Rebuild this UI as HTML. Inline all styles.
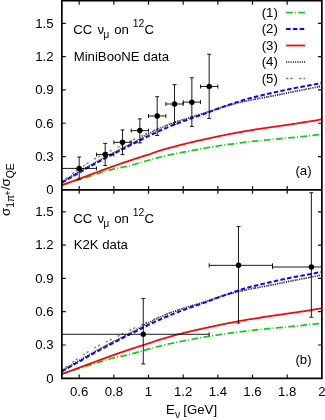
<!DOCTYPE html><html><head><meta charset="utf-8"><title>chart</title><style>html,body{margin:0;padding:0;background:#fff}svg{display:block;will-change:transform;opacity:0.999}text{font-family:"Liberation Sans",sans-serif;fill:#000}</style></head><body>
<svg width="325" height="420" viewBox="0 0 325 420">
<rect x="0" y="0" width="325" height="420" fill="#fff"/>
<defs><clipPath id="c0"><rect x="61.85" y="0.75" width="260.0" height="189.1"/></clipPath><clipPath id="c1"><rect x="61.85" y="189.85" width="260.0" height="188.45000000000002"/></clipPath></defs>
<g clip-path="url(#c0)" fill="none">
<path d="M61.85,182.16 L63.58,181.10 L65.32,180.03 L67.05,178.97 L68.78,177.91 L70.52,176.85 L72.25,175.79 L73.98,174.75 L75.72,173.71 L77.45,172.68 L79.18,171.67 L80.92,170.66 L82.65,169.66 L84.38,168.66 L86.12,167.66 L87.85,166.66 L89.58,165.66 L91.32,164.68 L93.05,163.71 L94.78,162.75 L96.52,161.80 L98.25,160.85 L99.98,159.92 L101.72,158.99 L103.45,158.06 L105.18,157.14 L106.92,156.23 L108.65,155.31 L110.38,154.41 L112.12,153.50 L113.85,152.60 L115.58,151.70 L117.32,150.80 L119.05,149.90 L120.78,149.00 L122.52,148.10 L124.25,147.19 L125.98,146.30 L127.72,145.40 L129.45,144.51 L131.18,143.63 L132.92,142.73 L134.65,141.81 L136.38,140.87 L138.12,139.92 L139.85,138.96 L141.58,137.97 L143.32,136.96 L145.05,135.96 L146.78,134.98 L148.52,134.06 L150.25,133.17 L151.98,132.29 L153.72,131.42 L155.45,130.56 L157.18,129.71 L158.92,128.87 L160.65,128.05 L162.38,127.25 L164.12,126.46 L165.85,125.70 L167.58,124.97 L169.32,124.28 L171.05,123.63 L172.78,123.00 L174.52,122.41 L176.25,121.83 L177.98,121.26 L179.72,120.70 L181.45,120.15 L183.18,119.59 L184.92,119.04 L186.65,118.49 L188.38,117.95 L190.12,117.42 L191.85,116.89 L193.58,116.37 L195.32,115.85 L197.05,115.33 L198.78,114.82 L200.52,114.31 L202.25,113.78 L203.98,113.24 L205.72,112.68 L207.45,112.11 L209.18,111.52 L210.92,110.94 L212.65,110.34 L214.38,109.75 L216.12,109.16 L217.85,108.58 L219.58,108.01 L221.32,107.45 L223.05,106.90 L224.78,106.38 L226.52,105.88 L228.25,105.40 L229.98,104.92 L231.72,104.47 L233.45,104.02 L235.18,103.58 L236.92,103.15 L238.65,102.74 L240.38,102.33 L242.12,101.93 L243.85,101.55 L245.58,101.17 L247.32,100.80 L249.05,100.44 L250.78,100.09 L252.52,99.74 L254.25,99.40 L255.98,99.07 L257.72,98.74 L259.45,98.41 L261.18,98.09 L262.92,97.77 L264.65,97.45 L266.38,97.12 L268.12,96.80 L269.85,96.48 L271.58,96.15 L273.32,95.82 L275.05,95.48 L276.78,95.14 L278.52,94.79 L280.25,94.43 L281.98,94.06 L283.72,93.69 L285.45,93.31 L287.18,92.94 L288.92,92.58 L290.65,92.23 L292.38,91.89 L294.12,91.54 L295.85,91.21 L297.58,90.88 L299.32,90.55 L301.05,90.22 L302.78,89.89 L304.52,89.56 L306.25,89.23 L307.98,88.90 L309.72,88.56 L311.45,88.22 L313.18,87.87 L314.92,87.52 L316.65,87.16 L318.38,86.79 L320.12,86.41 L321.85,86.02" stroke="#111" stroke-width="1.7" stroke-dasharray="1.05 1.2"/>
<path d="M61.85,181.60 L63.58,180.24 L65.32,178.90 L67.05,177.56 L68.78,176.24 L70.52,174.93 L72.25,173.65 L73.98,172.39 L75.72,171.16 L77.45,169.95 L79.18,168.78 L80.92,167.63 L82.65,166.48 L84.38,165.33 L86.12,164.19 L87.85,163.07 L89.58,161.96 L91.32,160.89 L93.05,159.85 L94.78,158.85 L96.52,157.88 L98.25,156.96 L99.98,156.06 L101.72,155.18 L103.45,154.32 L105.18,153.48 L106.92,152.65 L108.65,151.82 L110.38,150.99 L112.12,150.15 L113.85,149.30 L115.58,148.44 L117.32,147.58 L119.05,146.72 L120.78,145.85 L122.52,144.98 L124.25,144.12 L125.98,143.26 L127.72,142.41 L129.45,141.57 L131.18,140.74 L132.92,139.92 L134.65,139.12 L136.38,138.33 L138.12,137.55 L139.85,136.77 L141.58,135.98 L143.32,135.16 L145.05,134.33 L146.78,133.51 L148.52,132.72 L150.25,131.96 L151.98,131.20 L153.72,130.44 L155.45,129.69 L157.18,128.94 L158.92,128.20 L160.65,127.47 L162.38,126.76 L164.12,126.06 L165.85,125.37 L167.58,124.70 L169.32,124.06 L171.05,123.44 L172.78,122.84 L174.52,122.25 L176.25,121.68 L177.98,121.12 L179.72,120.57 L181.45,120.02 L183.18,119.48 L184.92,118.94 L186.65,118.41 L188.38,117.89 L190.12,117.37 L191.85,116.85 L193.58,116.34 L195.32,115.83 L197.05,115.32 L198.78,114.81 L200.52,114.31 L202.25,113.79 L203.98,113.25 L205.72,112.69 L207.45,112.12 L209.18,111.54 L210.92,110.95 L212.65,110.35 L214.38,109.76 L216.12,109.17 L217.85,108.58 L219.58,108.01 L221.32,107.45 L223.05,106.90 L224.78,106.38 L226.52,105.88 L228.25,105.40 L229.98,104.92 L231.72,104.47 L233.45,104.02 L235.18,103.58 L236.92,103.15 L238.65,102.74 L240.38,102.33 L242.12,101.93 L243.85,101.55 L245.58,101.17 L247.32,100.80 L249.05,100.44 L250.78,100.09 L252.52,99.74 L254.25,99.40 L255.98,99.07 L257.72,98.74 L259.45,98.41 L261.18,98.09 L262.92,97.77 L264.65,97.45 L266.38,97.12 L268.12,96.80 L269.85,96.48 L271.58,96.15 L273.32,95.82 L275.05,95.48 L276.78,95.14 L278.52,94.79 L280.25,94.43 L281.98,94.06 L283.72,93.69 L285.45,93.31 L287.18,92.94 L288.92,92.58 L290.65,92.23 L292.38,91.89 L294.12,91.54 L295.85,91.21 L297.58,90.88 L299.32,90.55 L301.05,90.22 L302.78,89.89 L304.52,89.56 L306.25,89.23 L307.98,88.90 L309.72,88.56 L311.45,88.22 L313.18,87.87 L314.92,87.52 L316.65,87.16 L318.38,86.79 L320.12,86.41 L321.85,86.02" stroke="#777" stroke-width="1.3" stroke-dasharray="2.3 2 2.3 6.5"/>
<path d="M61.85,184.93 L63.58,184.41 L65.32,183.88 L67.05,183.35 L68.78,182.82 L70.52,182.28 L72.25,181.74 L73.98,181.20 L75.72,180.66 L77.45,180.13 L79.18,179.59 L80.92,179.05 L82.65,178.51 L84.38,177.96 L86.12,177.41 L87.85,176.86 L89.58,176.31 L91.32,175.76 L93.05,175.21 L94.78,174.66 L96.52,174.12 L98.25,173.57 L99.98,173.03 L101.72,172.49 L103.45,171.96 L105.18,171.43 L106.92,170.90 L108.65,170.39 L110.38,169.88 L112.12,169.40 L113.85,168.97 L115.58,168.57 L117.32,168.21 L119.05,167.86 L120.78,167.53 L122.52,167.19 L124.25,166.85 L125.98,166.50 L127.72,166.12 L129.45,165.70 L131.18,165.24 L132.92,164.75 L134.65,164.26 L136.38,163.76 L138.12,163.26 L139.85,162.75 L141.58,162.25 L143.32,161.74 L145.05,161.24 L146.78,160.74 L148.52,160.25 L150.25,159.76 L151.98,159.28 L153.72,158.81 L155.45,158.34 L157.18,157.89 L158.92,157.45 L160.65,157.02 L162.38,156.60 L164.12,156.20 L165.85,155.79 L167.58,155.40 L169.32,155.02 L171.05,154.64 L172.78,154.27 L174.52,153.90 L176.25,153.54 L177.98,153.19 L179.72,152.84 L181.45,152.50 L183.18,152.16 L184.92,151.82 L186.65,151.49 L188.38,151.17 L190.12,150.84 L191.85,150.52 L193.58,150.20 L195.32,149.88 L197.05,149.57 L198.78,149.25 L200.52,148.93 L202.25,148.62 L203.98,148.31 L205.72,148.01 L207.45,147.71 L209.18,147.42 L210.92,147.13 L212.65,146.84 L214.38,146.56 L216.12,146.29 L217.85,146.02 L219.58,145.75 L221.32,145.49 L223.05,145.23 L224.78,144.98 L226.52,144.73 L228.25,144.48 L229.98,144.24 L231.72,144.01 L233.45,143.77 L235.18,143.54 L236.92,143.32 L238.65,143.10 L240.38,142.88 L242.12,142.66 L243.85,142.45 L245.58,142.24 L247.32,142.03 L249.05,141.83 L250.78,141.63 L252.52,141.43 L254.25,141.24 L255.98,141.05 L257.72,140.87 L259.45,140.68 L261.18,140.51 L262.92,140.33 L264.65,140.16 L266.38,140.00 L268.12,139.83 L269.85,139.67 L271.58,139.50 L273.32,139.34 L275.05,139.18 L276.78,139.02 L278.52,138.86 L280.25,138.70 L281.98,138.54 L283.72,138.38 L285.45,138.21 L287.18,138.05 L288.92,137.88 L290.65,137.72 L292.38,137.55 L294.12,137.38 L295.85,137.21 L297.58,137.04 L299.32,136.86 L301.05,136.68 L302.78,136.50 L304.52,136.32 L306.25,136.14 L307.98,135.95 L309.72,135.75 L311.45,135.56 L313.18,135.36 L314.92,135.15 L316.65,134.94 L318.38,134.73 L320.12,134.51 L321.85,134.28" stroke="#18c818" stroke-width="1.75" stroke-dasharray="6.8 2 1 2.4"/>
<path d="M61.85,182.49 L63.58,181.52 L65.32,180.55 L67.05,179.57 L68.78,178.59 L70.52,177.61 L72.25,176.62 L73.98,175.64 L75.72,174.65 L77.45,173.66 L79.18,172.67 L80.92,171.68 L82.65,170.68 L84.38,169.69 L86.12,168.70 L87.85,167.71 L89.58,166.72 L91.32,165.75 L93.05,164.78 L94.78,163.83 L96.52,162.88 L98.25,161.94 L99.98,161.01 L101.72,160.08 L103.45,159.16 L105.18,158.25 L106.92,157.34 L108.65,156.44 L110.38,155.54 L112.12,154.64 L113.85,153.74 L115.58,152.85 L117.32,151.95 L119.05,151.06 L120.78,150.16 L122.52,149.26 L124.25,148.37 L125.98,147.48 L127.72,146.60 L129.45,145.72 L131.18,144.85 L132.92,143.98 L134.65,143.11 L136.38,142.24 L138.12,141.38 L139.85,140.51 L141.58,139.63 L143.32,138.72 L145.05,137.81 L146.78,136.91 L148.52,136.05 L150.25,135.23 L151.98,134.41 L153.72,133.60 L155.45,132.80 L157.18,132.00 L158.92,131.21 L160.65,130.43 L162.38,129.66 L164.12,128.90 L165.85,128.14 L167.58,127.40 L169.32,126.67 L171.05,125.95 L172.78,125.25 L174.52,124.56 L176.25,123.88 L177.98,123.21 L179.72,122.55 L181.45,121.90 L183.18,121.26 L184.92,120.63 L186.65,120.00 L188.38,119.38 L190.12,118.77 L191.85,118.17 L193.58,117.56 L195.32,116.97 L197.05,116.37 L198.78,115.78 L200.52,115.19 L202.25,114.60 L203.98,113.98 L205.72,113.35 L207.45,112.71 L209.18,112.06 L210.92,111.41 L212.65,110.75 L214.38,110.09 L216.12,109.43 L217.85,108.77 L219.58,108.12 L221.32,107.49 L223.05,106.86 L224.78,106.25 L226.52,105.66 L228.25,105.07 L229.98,104.48 L231.72,103.89 L233.45,103.31 L235.18,102.72 L236.92,102.15 L238.65,101.57 L240.38,101.01 L242.12,100.46 L243.85,99.93 L245.58,99.41 L247.32,98.91 L249.05,98.42 L250.78,97.96 L252.52,97.52 L254.25,97.09 L255.98,96.67 L257.72,96.26 L259.45,95.85 L261.18,95.44 L262.92,95.03 L264.65,94.63 L266.38,94.23 L268.12,93.83 L269.85,93.44 L271.58,93.05 L273.32,92.66 L275.05,92.27 L276.78,91.89 L278.52,91.50 L280.25,91.12 L281.98,90.74 L283.72,90.36 L285.45,89.98 L287.18,89.61 L288.92,89.25 L290.65,88.90 L292.38,88.56 L294.12,88.22 L295.85,87.89 L297.58,87.56 L299.32,87.24 L301.05,86.92 L302.78,86.60 L304.52,86.28 L306.25,85.97 L307.98,85.65 L309.72,85.33 L311.45,85.02 L313.18,84.69 L314.92,84.37 L316.65,84.04 L318.38,83.71 L320.12,83.37 L321.85,83.02" stroke="#0808f8" stroke-width="2" stroke-dasharray="4.5 2.3"/>
<path d="M61.85,185.20 L63.58,184.57 L65.32,183.94 L67.05,183.30 L68.78,182.66 L70.52,182.02 L72.25,181.38 L73.98,180.74 L75.72,180.10 L77.45,179.45 L79.18,178.81 L80.92,178.16 L82.65,177.52 L84.38,176.87 L86.12,176.23 L87.85,175.58 L89.58,174.94 L91.32,174.30 L93.05,173.66 L94.78,173.02 L96.52,172.38 L98.25,171.74 L99.98,171.10 L101.72,170.47 L103.45,169.84 L105.18,169.21 L106.92,168.58 L108.65,167.95 L110.38,167.33 L112.12,166.71 L113.85,166.09 L115.58,165.48 L117.32,164.87 L119.05,164.26 L120.78,163.66 L122.52,163.06 L124.25,162.46 L125.98,161.87 L127.72,161.28 L129.45,160.70 L131.18,160.11 L132.92,159.54 L134.65,158.97 L136.38,158.41 L138.12,157.85 L139.85,157.29 L141.58,156.74 L143.32,156.19 L145.05,155.65 L146.78,155.10 L148.52,154.56 L150.25,153.99 L151.98,153.38 L153.72,152.76 L155.45,152.13 L157.18,151.52 L158.92,150.96 L160.65,150.44 L162.38,149.93 L164.12,149.43 L165.85,148.94 L167.58,148.45 L169.32,147.97 L171.05,147.49 L172.78,147.01 L174.52,146.55 L176.25,146.09 L177.98,145.63 L179.72,145.18 L181.45,144.73 L183.18,144.29 L184.92,143.86 L186.65,143.43 L188.38,143.00 L190.12,142.59 L191.85,142.17 L193.58,141.76 L195.32,141.36 L197.05,140.96 L198.78,140.57 L200.52,140.19 L202.25,139.80 L203.98,139.42 L205.72,139.04 L207.45,138.66 L209.18,138.28 L210.92,137.91 L212.65,137.54 L214.38,137.17 L216.12,136.80 L217.85,136.44 L219.58,136.08 L221.32,135.72 L223.05,135.37 L224.78,135.02 L226.52,134.67 L228.25,134.33 L229.98,133.99 L231.72,133.66 L233.45,133.33 L235.18,133.00 L236.92,132.68 L238.65,132.36 L240.38,132.05 L242.12,131.74 L243.85,131.44 L245.58,131.14 L247.32,130.85 L249.05,130.56 L250.78,130.28 L252.52,130.00 L254.25,129.73 L255.98,129.46 L257.72,129.19 L259.45,128.92 L261.18,128.66 L262.92,128.39 L264.65,128.13 L266.38,127.87 L268.12,127.61 L269.85,127.36 L271.58,127.10 L273.32,126.85 L275.05,126.59 L276.78,126.34 L278.52,126.09 L280.25,125.83 L281.98,125.58 L283.72,125.33 L285.45,125.08 L287.18,124.83 L288.92,124.57 L290.65,124.32 L292.38,124.07 L294.12,123.81 L295.85,123.56 L297.58,123.30 L299.32,123.04 L301.05,122.77 L302.78,122.51 L304.52,122.24 L306.25,121.97 L307.98,121.70 L309.72,121.42 L311.45,121.14 L313.18,120.86 L314.92,120.57 L316.65,120.27 L318.38,119.97 L320.12,119.67 L321.85,119.36" stroke="#f80808" stroke-width="1.8"/>
</g>
<g clip-path="url(#c1)" fill="none">
<path d="M61.85,371.01 L63.58,369.95 L65.32,368.88 L67.05,367.82 L68.78,366.76 L70.52,365.70 L72.25,364.64 L73.98,363.60 L75.72,362.56 L77.45,361.53 L79.18,360.52 L80.92,359.51 L82.65,358.51 L84.38,357.51 L86.12,356.51 L87.85,355.51 L89.58,354.51 L91.32,353.53 L93.05,352.56 L94.78,351.60 L96.52,350.65 L98.25,349.70 L99.98,348.77 L101.72,347.84 L103.45,346.91 L105.18,345.99 L106.92,345.08 L108.65,344.16 L110.38,343.26 L112.12,342.35 L113.85,341.45 L115.58,340.55 L117.32,339.65 L119.05,338.75 L120.78,337.85 L122.52,336.95 L124.25,336.04 L125.98,335.15 L127.72,334.25 L129.45,333.36 L131.18,332.48 L132.92,331.58 L134.65,330.66 L136.38,329.72 L138.12,328.77 L139.85,327.81 L141.58,326.82 L143.32,325.81 L145.05,324.81 L146.78,323.83 L148.52,322.91 L150.25,322.02 L151.98,321.14 L153.72,320.27 L155.45,319.41 L157.18,318.56 L158.92,317.72 L160.65,316.90 L162.38,316.10 L164.12,315.31 L165.85,314.55 L167.58,313.82 L169.32,313.13 L171.05,312.48 L172.78,311.85 L174.52,311.26 L176.25,310.68 L177.98,310.11 L179.72,309.55 L181.45,309.00 L183.18,308.44 L184.92,307.89 L186.65,307.34 L188.38,306.80 L190.12,306.27 L191.85,305.74 L193.58,305.22 L195.32,304.70 L197.05,304.18 L198.78,303.67 L200.52,303.16 L202.25,302.63 L203.98,302.09 L205.72,301.53 L207.45,300.96 L209.18,300.37 L210.92,299.79 L212.65,299.19 L214.38,298.60 L216.12,298.01 L217.85,297.43 L219.58,296.86 L221.32,296.30 L223.05,295.75 L224.78,295.23 L226.52,294.73 L228.25,294.25 L229.98,293.77 L231.72,293.32 L233.45,292.87 L235.18,292.43 L236.92,292.00 L238.65,291.59 L240.38,291.18 L242.12,290.78 L243.85,290.40 L245.58,290.02 L247.32,289.65 L249.05,289.29 L250.78,288.94 L252.52,288.59 L254.25,288.25 L255.98,287.92 L257.72,287.59 L259.45,287.26 L261.18,286.94 L262.92,286.62 L264.65,286.30 L266.38,285.97 L268.12,285.65 L269.85,285.33 L271.58,285.00 L273.32,284.67 L275.05,284.33 L276.78,283.99 L278.52,283.64 L280.25,283.28 L281.98,282.91 L283.72,282.54 L285.45,282.16 L287.18,281.79 L288.92,281.43 L290.65,281.08 L292.38,280.74 L294.12,280.39 L295.85,280.06 L297.58,279.73 L299.32,279.40 L301.05,279.07 L302.78,278.74 L304.52,278.41 L306.25,278.08 L307.98,277.75 L309.72,277.41 L311.45,277.07 L313.18,276.72 L314.92,276.37 L316.65,276.01 L318.38,275.64 L320.12,275.26 L321.85,274.87" stroke="#111" stroke-width="1.7" stroke-dasharray="1.05 1.2"/>
<path d="M61.85,370.45 L63.58,369.09 L65.32,367.75 L67.05,366.41 L68.78,365.09 L70.52,363.78 L72.25,362.50 L73.98,361.24 L75.72,360.01 L77.45,358.80 L79.18,357.63 L80.92,356.48 L82.65,355.33 L84.38,354.18 L86.12,353.04 L87.85,351.92 L89.58,350.81 L91.32,349.74 L93.05,348.70 L94.78,347.70 L96.52,346.73 L98.25,345.81 L99.98,344.91 L101.72,344.03 L103.45,343.17 L105.18,342.33 L106.92,341.50 L108.65,340.67 L110.38,339.84 L112.12,339.00 L113.85,338.15 L115.58,337.29 L117.32,336.43 L119.05,335.57 L120.78,334.70 L122.52,333.83 L124.25,332.97 L125.98,332.11 L127.72,331.26 L129.45,330.42 L131.18,329.59 L132.92,328.77 L134.65,327.97 L136.38,327.18 L138.12,326.40 L139.85,325.62 L141.58,324.83 L143.32,324.01 L145.05,323.18 L146.78,322.36 L148.52,321.57 L150.25,320.81 L151.98,320.05 L153.72,319.29 L155.45,318.54 L157.18,317.79 L158.92,317.05 L160.65,316.32 L162.38,315.61 L164.12,314.91 L165.85,314.22 L167.58,313.55 L169.32,312.91 L171.05,312.29 L172.78,311.69 L174.52,311.10 L176.25,310.53 L177.98,309.97 L179.72,309.42 L181.45,308.87 L183.18,308.33 L184.92,307.79 L186.65,307.26 L188.38,306.74 L190.12,306.22 L191.85,305.70 L193.58,305.19 L195.32,304.68 L197.05,304.17 L198.78,303.66 L200.52,303.16 L202.25,302.64 L203.98,302.10 L205.72,301.54 L207.45,300.97 L209.18,300.39 L210.92,299.80 L212.65,299.20 L214.38,298.61 L216.12,298.02 L217.85,297.43 L219.58,296.86 L221.32,296.30 L223.05,295.75 L224.78,295.23 L226.52,294.73 L228.25,294.25 L229.98,293.77 L231.72,293.32 L233.45,292.87 L235.18,292.43 L236.92,292.00 L238.65,291.59 L240.38,291.18 L242.12,290.78 L243.85,290.40 L245.58,290.02 L247.32,289.65 L249.05,289.29 L250.78,288.94 L252.52,288.59 L254.25,288.25 L255.98,287.92 L257.72,287.59 L259.45,287.26 L261.18,286.94 L262.92,286.62 L264.65,286.30 L266.38,285.97 L268.12,285.65 L269.85,285.33 L271.58,285.00 L273.32,284.67 L275.05,284.33 L276.78,283.99 L278.52,283.64 L280.25,283.28 L281.98,282.91 L283.72,282.54 L285.45,282.16 L287.18,281.79 L288.92,281.43 L290.65,281.08 L292.38,280.74 L294.12,280.39 L295.85,280.06 L297.58,279.73 L299.32,279.40 L301.05,279.07 L302.78,278.74 L304.52,278.41 L306.25,278.08 L307.98,277.75 L309.72,277.41 L311.45,277.07 L313.18,276.72 L314.92,276.37 L316.65,276.01 L318.38,275.64 L320.12,275.26 L321.85,274.87" stroke="#777" stroke-width="1.3" stroke-dasharray="2.3 2 2.3 6.5"/>
<path d="M61.85,373.78 L63.58,373.26 L65.32,372.73 L67.05,372.20 L68.78,371.67 L70.52,371.13 L72.25,370.59 L73.98,370.05 L75.72,369.51 L77.45,368.98 L79.18,368.44 L80.92,367.90 L82.65,367.36 L84.38,366.81 L86.12,366.26 L87.85,365.71 L89.58,365.16 L91.32,364.61 L93.05,364.06 L94.78,363.51 L96.52,362.97 L98.25,362.42 L99.98,361.88 L101.72,361.34 L103.45,360.81 L105.18,360.28 L106.92,359.75 L108.65,359.24 L110.38,358.73 L112.12,358.25 L113.85,357.82 L115.58,357.42 L117.32,357.06 L119.05,356.71 L120.78,356.38 L122.52,356.04 L124.25,355.70 L125.98,355.35 L127.72,354.97 L129.45,354.55 L131.18,354.09 L132.92,353.60 L134.65,353.11 L136.38,352.61 L138.12,352.11 L139.85,351.60 L141.58,351.10 L143.32,350.59 L145.05,350.09 L146.78,349.59 L148.52,349.10 L150.25,348.61 L151.98,348.13 L153.72,347.66 L155.45,347.19 L157.18,346.74 L158.92,346.30 L160.65,345.87 L162.38,345.45 L164.12,345.05 L165.85,344.64 L167.58,344.25 L169.32,343.87 L171.05,343.49 L172.78,343.12 L174.52,342.75 L176.25,342.39 L177.98,342.04 L179.72,341.69 L181.45,341.35 L183.18,341.01 L184.92,340.67 L186.65,340.34 L188.38,340.02 L190.12,339.69 L191.85,339.37 L193.58,339.05 L195.32,338.73 L197.05,338.42 L198.78,338.10 L200.52,337.78 L202.25,337.47 L203.98,337.16 L205.72,336.86 L207.45,336.56 L209.18,336.27 L210.92,335.98 L212.65,335.69 L214.38,335.41 L216.12,335.14 L217.85,334.87 L219.58,334.60 L221.32,334.34 L223.05,334.08 L224.78,333.83 L226.52,333.58 L228.25,333.33 L229.98,333.09 L231.72,332.86 L233.45,332.62 L235.18,332.39 L236.92,332.17 L238.65,331.95 L240.38,331.73 L242.12,331.51 L243.85,331.30 L245.58,331.09 L247.32,330.88 L249.05,330.68 L250.78,330.48 L252.52,330.28 L254.25,330.09 L255.98,329.90 L257.72,329.72 L259.45,329.53 L261.18,329.36 L262.92,329.18 L264.65,329.01 L266.38,328.85 L268.12,328.68 L269.85,328.52 L271.58,328.35 L273.32,328.19 L275.05,328.03 L276.78,327.87 L278.52,327.71 L280.25,327.55 L281.98,327.39 L283.72,327.23 L285.45,327.06 L287.18,326.90 L288.92,326.73 L290.65,326.57 L292.38,326.40 L294.12,326.23 L295.85,326.06 L297.58,325.89 L299.32,325.71 L301.05,325.53 L302.78,325.35 L304.52,325.17 L306.25,324.99 L307.98,324.80 L309.72,324.60 L311.45,324.41 L313.18,324.21 L314.92,324.00 L316.65,323.79 L318.38,323.58 L320.12,323.36 L321.85,323.13" stroke="#18c818" stroke-width="1.75" stroke-dasharray="6.8 2 1 2.4"/>
<path d="M61.85,371.34 L63.58,370.37 L65.32,369.40 L67.05,368.42 L68.78,367.44 L70.52,366.46 L72.25,365.47 L73.98,364.49 L75.72,363.50 L77.45,362.51 L79.18,361.52 L80.92,360.53 L82.65,359.53 L84.38,358.54 L86.12,357.55 L87.85,356.56 L89.58,355.57 L91.32,354.60 L93.05,353.63 L94.78,352.68 L96.52,351.73 L98.25,350.79 L99.98,349.86 L101.72,348.93 L103.45,348.01 L105.18,347.10 L106.92,346.19 L108.65,345.29 L110.38,344.39 L112.12,343.49 L113.85,342.59 L115.58,341.70 L117.32,340.80 L119.05,339.91 L120.78,339.01 L122.52,338.11 L124.25,337.22 L125.98,336.33 L127.72,335.45 L129.45,334.57 L131.18,333.70 L132.92,332.83 L134.65,331.96 L136.38,331.09 L138.12,330.23 L139.85,329.36 L141.58,328.48 L143.32,327.57 L145.05,326.66 L146.78,325.76 L148.52,324.90 L150.25,324.08 L151.98,323.26 L153.72,322.45 L155.45,321.65 L157.18,320.85 L158.92,320.06 L160.65,319.28 L162.38,318.51 L164.12,317.75 L165.85,316.99 L167.58,316.25 L169.32,315.52 L171.05,314.80 L172.78,314.10 L174.52,313.41 L176.25,312.73 L177.98,312.06 L179.72,311.40 L181.45,310.75 L183.18,310.11 L184.92,309.48 L186.65,308.85 L188.38,308.23 L190.12,307.62 L191.85,307.02 L193.58,306.41 L195.32,305.82 L197.05,305.22 L198.78,304.63 L200.52,304.04 L202.25,303.45 L203.98,302.83 L205.72,302.20 L207.45,301.56 L209.18,300.91 L210.92,300.26 L212.65,299.60 L214.38,298.94 L216.12,298.28 L217.85,297.62 L219.58,296.97 L221.32,296.34 L223.05,295.71 L224.78,295.10 L226.52,294.51 L228.25,293.92 L229.98,293.33 L231.72,292.74 L233.45,292.16 L235.18,291.57 L236.92,291.00 L238.65,290.42 L240.38,289.86 L242.12,289.31 L243.85,288.78 L245.58,288.26 L247.32,287.76 L249.05,287.27 L250.78,286.81 L252.52,286.37 L254.25,285.94 L255.98,285.52 L257.72,285.11 L259.45,284.70 L261.18,284.29 L262.92,283.88 L264.65,283.48 L266.38,283.08 L268.12,282.68 L269.85,282.29 L271.58,281.90 L273.32,281.51 L275.05,281.12 L276.78,280.74 L278.52,280.35 L280.25,279.97 L281.98,279.59 L283.72,279.21 L285.45,278.83 L287.18,278.46 L288.92,278.10 L290.65,277.75 L292.38,277.41 L294.12,277.07 L295.85,276.74 L297.58,276.41 L299.32,276.09 L301.05,275.77 L302.78,275.45 L304.52,275.13 L306.25,274.82 L307.98,274.50 L309.72,274.18 L311.45,273.87 L313.18,273.54 L314.92,273.22 L316.65,272.89 L318.38,272.56 L320.12,272.22 L321.85,271.87" stroke="#0808f8" stroke-width="2" stroke-dasharray="4.5 2.3"/>
<path d="M61.85,374.05 L63.58,373.42 L65.32,372.79 L67.05,372.15 L68.78,371.51 L70.52,370.87 L72.25,370.23 L73.98,369.59 L75.72,368.95 L77.45,368.30 L79.18,367.66 L80.92,367.01 L82.65,366.37 L84.38,365.72 L86.12,365.08 L87.85,364.43 L89.58,363.79 L91.32,363.15 L93.05,362.51 L94.78,361.87 L96.52,361.23 L98.25,360.59 L99.98,359.95 L101.72,359.32 L103.45,358.69 L105.18,358.06 L106.92,357.43 L108.65,356.80 L110.38,356.18 L112.12,355.56 L113.85,354.94 L115.58,354.33 L117.32,353.72 L119.05,353.11 L120.78,352.51 L122.52,351.91 L124.25,351.31 L125.98,350.72 L127.72,350.13 L129.45,349.55 L131.18,348.96 L132.92,348.39 L134.65,347.82 L136.38,347.26 L138.12,346.70 L139.85,346.14 L141.58,345.59 L143.32,345.04 L145.05,344.50 L146.78,343.95 L148.52,343.41 L150.25,342.84 L151.98,342.23 L153.72,341.61 L155.45,340.98 L157.18,340.37 L158.92,339.81 L160.65,339.29 L162.38,338.78 L164.12,338.28 L165.85,337.79 L167.58,337.30 L169.32,336.82 L171.05,336.34 L172.78,335.86 L174.52,335.40 L176.25,334.94 L177.98,334.48 L179.72,334.03 L181.45,333.58 L183.18,333.14 L184.92,332.71 L186.65,332.28 L188.38,331.85 L190.12,331.44 L191.85,331.02 L193.58,330.61 L195.32,330.21 L197.05,329.81 L198.78,329.42 L200.52,329.04 L202.25,328.65 L203.98,328.27 L205.72,327.89 L207.45,327.51 L209.18,327.13 L210.92,326.76 L212.65,326.39 L214.38,326.02 L216.12,325.65 L217.85,325.29 L219.58,324.93 L221.32,324.57 L223.05,324.22 L224.78,323.87 L226.52,323.52 L228.25,323.18 L229.98,322.84 L231.72,322.51 L233.45,322.18 L235.18,321.85 L236.92,321.53 L238.65,321.21 L240.38,320.90 L242.12,320.59 L243.85,320.29 L245.58,319.99 L247.32,319.70 L249.05,319.41 L250.78,319.13 L252.52,318.85 L254.25,318.58 L255.98,318.31 L257.72,318.04 L259.45,317.77 L261.18,317.51 L262.92,317.24 L264.65,316.98 L266.38,316.72 L268.12,316.46 L269.85,316.21 L271.58,315.95 L273.32,315.70 L275.05,315.44 L276.78,315.19 L278.52,314.94 L280.25,314.68 L281.98,314.43 L283.72,314.18 L285.45,313.93 L287.18,313.68 L288.92,313.42 L290.65,313.17 L292.38,312.92 L294.12,312.66 L295.85,312.41 L297.58,312.15 L299.32,311.89 L301.05,311.62 L302.78,311.36 L304.52,311.09 L306.25,310.82 L307.98,310.55 L309.72,310.27 L311.45,309.99 L313.18,309.71 L314.92,309.42 L316.65,309.12 L318.38,308.82 L320.12,308.52 L321.85,308.21" stroke="#f80808" stroke-width="1.8"/>
</g>
<g stroke="#000" stroke-width="0.9" fill="none">
<path d="M61.85,168.42 H96.52 M79.18,179.37 V157.02" /><path d="M96.52,166.42 V170.42 M77.18,179.37 H81.18 M77.18,157.02 H81.18"/><circle cx="79.18" cy="168.42" r="2.75" fill="#000" stroke="none"/>
<path d="M96.52,154.58 H113.85 M105.18,165.54 V143.40" /><path d="M96.52,152.58 V156.58 M113.85,152.58 V156.58 M103.18,165.54 H107.18 M103.18,143.40 H107.18"/><circle cx="105.18" cy="154.58" r="2.75" fill="#000" stroke="none"/>
<path d="M113.85,142.35 H131.18 M122.52,154.64 V129.96" /><path d="M113.85,140.35 V144.35 M131.18,140.35 V144.35 M120.52,154.64 H124.52 M120.52,129.96 H124.52"/><circle cx="122.52" cy="142.35" r="2.75" fill="#000" stroke="none"/>
<path d="M131.18,130.62 H148.52 M139.85,142.91 V118.89" /><path d="M131.18,128.62 V132.62 M148.52,128.62 V132.62 M137.85,142.91 H141.85 M137.85,118.89 H141.85"/><circle cx="139.85" cy="130.62" r="2.75" fill="#000" stroke="none"/>
<path d="M148.52,115.96 H165.85 M157.18,135.44 V96.70" /><path d="M148.52,113.96 V117.96 M165.85,113.96 V117.96 M155.18,135.44 H159.18 M155.18,96.70 H159.18"/><circle cx="157.18" cy="115.96" r="2.75" fill="#000" stroke="none"/>
<path d="M165.85,104.01 H183.18 M174.52,124.26 V84.64" /><path d="M165.85,102.01 V106.01 M183.18,102.01 V106.01 M172.52,124.26 H176.52 M172.52,84.64 H176.52"/><circle cx="174.52" cy="104.01" r="2.75" fill="#000" stroke="none"/>
<path d="M183.18,102.13 H200.52 M191.85,126.36 V77.78" /><path d="M183.18,100.13 V104.13 M200.52,100.13 V104.13 M189.85,126.36 H193.85 M189.85,77.78 H193.85"/><circle cx="191.85" cy="102.13" r="2.75" fill="#000" stroke="none"/>
<path d="M200.52,86.52 H217.85 M209.18,118.39 V54.21" /><path d="M200.52,84.52 V88.52 M217.85,84.52 V88.52 M207.18,118.39 H211.18 M207.18,54.21 H211.18"/><circle cx="209.18" cy="86.52" r="2.75" fill="#000" stroke="none"/>
<path d="M61.85,334.29 H209.18 M143.26,363.95 V298.54" /><path d="M209.18,332.29 V336.29 M141.26,363.95 H145.26 M141.26,298.54 H145.26"/><circle cx="143.26" cy="334.29" r="2.75" fill="#000" stroke="none"/>
<path d="M209.18,265.34 H272.54 M238.48,323.11 V226.50" /><path d="M209.18,263.34 V267.34 M272.54,263.34 V267.34 M236.48,323.11 H240.48 M236.48,226.50 H240.48"/><circle cx="238.48" cy="265.34" r="2.75" fill="#000" stroke="none"/>
<path d="M272.54,267.00 H321.85 M311.36,317.24 V192.74" /><path d="M272.54,265.00 V269.00 M309.36,317.24 H313.36 M309.36,192.74 H313.36"/><circle cx="311.36" cy="267.00" r="2.75" fill="#000" stroke="none"/>
</g>
<g stroke="#000" stroke-width="1.7" fill="none">
<path d="M61.85,0.75 H321.85 V378.3 H61.85 Z M61.85,189.85 H321.85"/>
</g><g stroke="#111" stroke-width="1.2" fill="none">
<path d="M61.85,156.55 h3.9 M321.85,156.55 h-3.9 M61.85,123.25 h3.9 M321.85,123.25 h-3.9 M61.85,89.95 h3.9 M321.85,89.95 h-3.9 M61.85,56.65 h3.9 M321.85,56.65 h-3.9 M61.85,23.35 h3.9 M321.85,23.35 h-3.9 M79.18,189.85 v-3.9 M79.18,0.75 v3.9 M113.85,189.85 v-3.9 M113.85,0.75 v3.9 M148.52,189.85 v-3.9 M148.52,0.75 v3.9 M183.18,189.85 v-3.9 M183.18,0.75 v3.9 M217.85,189.85 v-3.9 M217.85,0.75 v3.9 M252.52,189.85 v-3.9 M252.52,0.75 v3.9 M287.18,189.85 v-3.9 M287.18,0.75 v3.9 M61.85,345.00 h3.9 M321.85,345.00 h-3.9 M61.85,311.70 h3.9 M321.85,311.70 h-3.9 M61.85,278.40 h3.9 M321.85,278.40 h-3.9 M61.85,245.10 h3.9 M321.85,245.10 h-3.9 M61.85,211.80 h3.9 M321.85,211.80 h-3.9 M79.18,378.3 v-3.9 M79.18,189.85 v3.9 M113.85,378.3 v-3.9 M113.85,189.85 v3.9 M148.52,378.3 v-3.9 M148.52,189.85 v3.9 M183.18,378.3 v-3.9 M183.18,189.85 v3.9 M217.85,378.3 v-3.9 M217.85,189.85 v3.9 M252.52,378.3 v-3.9 M252.52,189.85 v3.9 M287.18,378.3 v-3.9 M287.18,189.85 v3.9"/>
</g>
<g font-size="13.2">
<text x="53.5" y="194.15" text-anchor="end">0</text>
<text x="53.5" y="160.85" text-anchor="end">0.3</text>
<text x="53.5" y="127.55" text-anchor="end">0.6</text>
<text x="53.5" y="94.25" text-anchor="end">0.9</text>
<text x="53.5" y="60.95" text-anchor="end">1.2</text>
<text x="53.5" y="27.65" text-anchor="end">1.5</text>
<text x="53.5" y="382.60" text-anchor="end">0</text>
<text x="53.5" y="349.30" text-anchor="end">0.3</text>
<text x="53.5" y="316.00" text-anchor="end">0.6</text>
<text x="53.5" y="282.70" text-anchor="end">0.9</text>
<text x="53.5" y="249.40" text-anchor="end">1.2</text>
<text x="53.5" y="216.10" text-anchor="end">1.5</text>
<text x="79.18" y="396.4" text-anchor="middle">0.6</text>
<text x="113.85" y="396.4" text-anchor="middle">0.8</text>
<text x="148.52" y="396.4" text-anchor="middle">1</text>
<text x="183.18" y="396.4" text-anchor="middle">1.2</text>
<text x="217.85" y="396.4" text-anchor="middle">1.4</text>
<text x="252.52" y="396.4" text-anchor="middle">1.6</text>
<text x="287.18" y="396.4" text-anchor="middle">1.8</text>
<text x="321.85" y="396.4" text-anchor="middle">2</text>
<text x="277.8" y="16.80" text-anchor="end">(1)</text>
<path d="M286.1,12.50 H305.2" fill="none" stroke="#18c818" stroke-width="1.75" stroke-dasharray="6.8 2 1 2.4"/>
<text x="277.8" y="33.30" text-anchor="end">(2)</text>
<path d="M286.1,29.00 H305.2" fill="none" stroke="#0808f8" stroke-width="2" stroke-dasharray="4.5 2.3"/>
<text x="277.8" y="49.80" text-anchor="end">(3)</text>
<path d="M286.1,45.50 H305.2" fill="none" stroke="#f80808" stroke-width="1.8"/>
<text x="277.8" y="66.30" text-anchor="end">(4)</text>
<path d="M286.1,62.00 H305.2" fill="none" stroke="#111" stroke-width="1.7" stroke-dasharray="1.05 1.2"/>
<text x="277.8" y="82.80" text-anchor="end">(5)</text>
<path d="M286.1,78.50 H305.2" fill="none" stroke="#777" stroke-width="1.3" stroke-dasharray="2.3 2 2.3 6.5"/>
<text x="73.3" y="34.3">CC<tspan dx="1.6"> ν</tspan><tspan font-size="10.4" dy="3.6" dx="-1.0">μ</tspan><tspan dy="-3.6" dx="1.3"> on </tspan><tspan font-size="10.4" dy="-7.6" dx="0.2">12</tspan><tspan dy="7.6" dx="0.1">C</tspan></text>
<text x="73.3" y="223.3">CC<tspan dx="1.6"> ν</tspan><tspan font-size="10.4" dy="3.6" dx="-1.0">μ</tspan><tspan dy="-3.6" dx="1.3"> on </tspan><tspan font-size="10.4" dy="-7.6" dx="0.2">12</tspan><tspan dy="7.6" dx="0.1">C</tspan></text>
<text x="73.7" y="60.8">MiniBooNE data</text>
<text x="73.7" y="249.4">K2K data</text>
<text x="311.6" y="175.3" text-anchor="end">(a)</text>
<text x="311.6" y="364.0" text-anchor="end">(b)</text>
<text x="166.1" y="414.4">E<tspan font-size="10.4" dy="3.6">ν</tspan><tspan dy="-3.6" dx="-0.4"> [GeV]</tspan></text>
<g transform="translate(10.4,216.0) rotate(-90)"><text x="0" y="0">σ<tspan font-size="10.4" dy="3.6">1π</tspan><tspan font-size="8.3" dy="-3.5" dx="-0.7">+</tspan><tspan dy="-0.1" dx="0.7">/σ</tspan><tspan font-size="10.4" dy="3.6">QE</tspan></text></g>
</g>
</svg></body></html>
